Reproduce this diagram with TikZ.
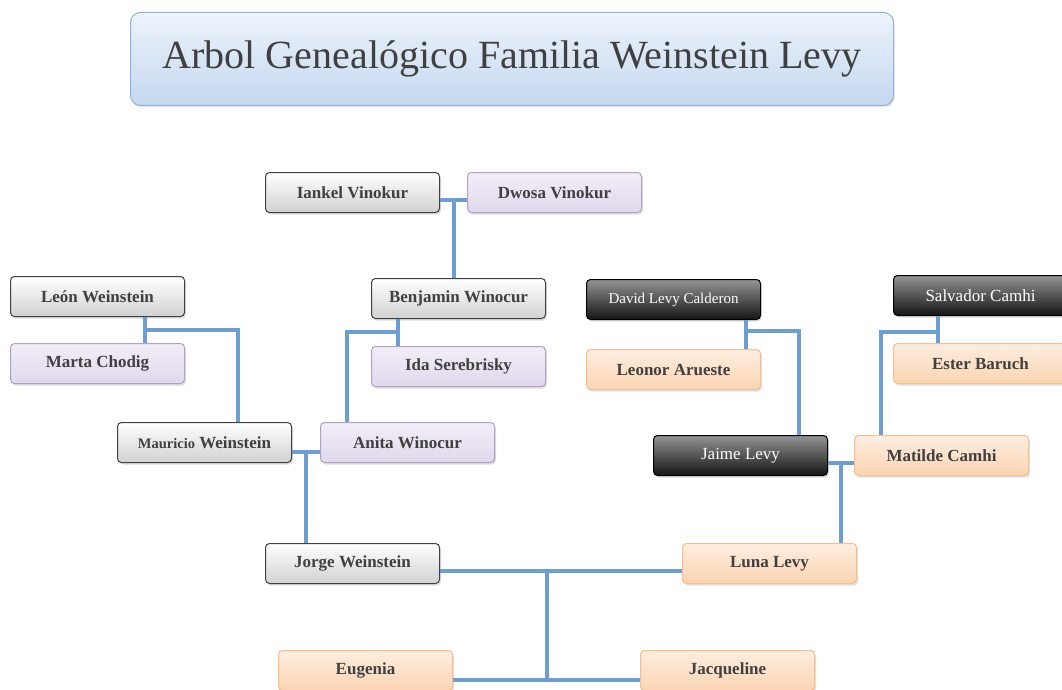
\documentclass[tikz,border=0pt]{standalone}
\usepackage{fontspec}
\setmainfont{Liberation Serif}
\usetikzlibrary{positioning,calc,shadows}

\definecolor{linkblue}{RGB}{108,158,212}
\definecolor{txtgrey}{RGB}{64,64,64}
\definecolor{titletop}{RGB}{236,243,251}
\definecolor{titlebot}{RGB}{197,216,239}
\definecolor{titleedge}{RGB}{141,179,226}
\definecolor{lavtop}{RGB}{242,238,247}
\definecolor{lavbot}{RGB}{224,216,236}
\definecolor{lavedge}{RGB}{178,161,199}
\definecolor{peachtop}{RGB}{253,238,224}
\definecolor{peachbot}{RGB}{251,212,178}
\definecolor{peachedge}{RGB}{249,190,140}

\begin{document}
\begin{tikzpicture}[
    x=1pt, y=-1pt,
    node distance=27pt,
    every node/.style={font=\fontsize{17}{20}\selectfont\bfseries, text=txtgrey},
    person/.style={draw, rounded corners=4pt, minimum width=174pt, minimum height=40pt, inner sep=0pt, line width=1pt,
        drop shadow={shadow xshift=1.5pt, shadow yshift=-2pt, opacity=.25}},
    man/.style={person, top color=white, bottom color=black!18, draw=black!75},
    woman/.style={person, top color=lavtop, bottom color=lavbot, draw=lavedge},
    bride/.style={person, top color=peachtop, bottom color=peachbot, draw=peachedge},
    elder/.style={person, top color=black!42, bottom color=black!92, draw=black, text=white,
        font=\fontsize{17}{20}\selectfont},
    titlebox/.style={draw=titleedge, line width=1pt, rounded corners=10pt, top color=titletop, bottom color=titlebot,
        drop shadow={shadow xshift=1pt, shadow yshift=-2pt, opacity=.2}, font=\fontsize{40}{48}\selectfont},
    link/.style={draw=linkblue, line width=4pt}
]
\useasboundingbox (0,0) rectangle (1062,690);

\node[titlebox, anchor=north west, minimum width=763pt, minimum height=93pt] (title) at (130,12) {Arbol Genealógico Familia Weinstein Levy};

% grandparents
\node[man, anchor=north west] (iankel) at (265,172) {Iankel Vinokur};
\node[woman, right=of iankel] (dwosa) {Dwosa Vinokur};
\node[man, anchor=north west] (benjamin) at (371,278) {Benjamin Winocur};
\node[woman, below=of benjamin] (ida) {Ida Serebrisky};
\node[man, anchor=north west] (leon) at (10,276) {León Weinstein};
\node[woman, below=26pt of leon] (marta) {Marta Chodig};
\node[elder, anchor=north west, font=\fontsize{15}{18}\selectfont] (david) at (586,279) {David Levy Calderon};
\node[bride, below=29pt of david] (leonor) {Leonor Arueste};
\node[elder, anchor=north west] (salvador) at (893,275) {Salvador Camhi};
\node[bride, below=of salvador] (ester) {Ester Baruch};

% parents
\node[man, anchor=north west] (mauricio) at (117,422) {{\fontsize{14.5}{17}\selectfont Mauricio} Weinstein};
\node[woman, right=28pt of mauricio] (anita) {Anita Winocur};
\node[elder, anchor=north west] (jaime) at (653,435) {Jaime Levy};
\node[bride, right=26pt of jaime] (matilde) {Matilde Camhi};
\node[man, anchor=north west] (jorge) at (265,543) {Jorge Weinstein};
\node[bride, right=242pt of jorge] (luna) {Luna Levy};

% children
\node[bride, anchor=north west] (eugenia) at (278,650) {Eugenia};
\node[bride, anchor=north west] (jacqueline) at (640,650) {Jacqueline};

% Vinokur
\draw[link] ([yshift=-7pt]iankel.east) -- ([yshift=-7pt]dwosa.west);
\coordinate (vin) at ($([yshift=-7pt]iankel.east)!.5!([yshift=-7pt]dwosa.west)$);
\draw[link] (vin) -- (vin |- benjamin.north);

% Weinstein
\coordinate (wei) at ([xshift=47pt,yshift=-13pt]leon.south);
\draw[link] (leon.south -| wei) -- (marta.north -| wei);
\draw[link] (wei) -| ([xshift=33pt]mauricio.north);

% Winocur
\coordinate (win) at ([xshift=-61pt,yshift=-13pt]benjamin.south);
\draw[link] (benjamin.south -| win) -- (ida.north -| win);
\draw[link] (win) -| ([xshift=-61pt]anita.north);

% Levy
\coordinate (lev) at ([xshift=72pt,yshift=-11pt]david.south);
\draw[link] (david.south -| lev) -- (leonor.north -| lev);
\draw[link] (lev) -| ([xshift=58pt]jaime.north);

% Camhi
\coordinate (cam) at ([xshift=-43pt,yshift=-16pt]salvador.south);
\draw[link] (salvador.south -| cam) -- (ester.north -| cam);
\draw[link] (cam) -| ([xshift=-61pt]matilde.north);

% couples
\draw[link] ([yshift=-9pt]mauricio.east) -- ([yshift=-9pt]anita.west);
\coordinate (ma) at ([xshift=14pt,yshift=-9pt]mauricio.east);
\draw[link] (ma) -- (ma |- jorge.north);
\draw[link] ([yshift=-7pt]jaime.east) -- ([yshift=-7pt]matilde.west);
\coordinate (jm) at ([xshift=13pt,yshift=-7pt]jaime.east);
\draw[link] (jm) -- (jm |- luna.north);
\draw[link] ([yshift=-7pt]jorge.east) -- ([yshift=-7pt]luna.west);
\coordinate (jl) at ([yshift=-7pt]jorge.east);
\draw[link] ([yshift=-9pt]eugenia.east) -- ([yshift=-9pt]jacqueline.west);
\coordinate (kids) at ([xshift=94pt,yshift=-9pt]eugenia.east);
\draw[link] (kids) -- (kids |- jl);
\end{tikzpicture}
\end{document}
